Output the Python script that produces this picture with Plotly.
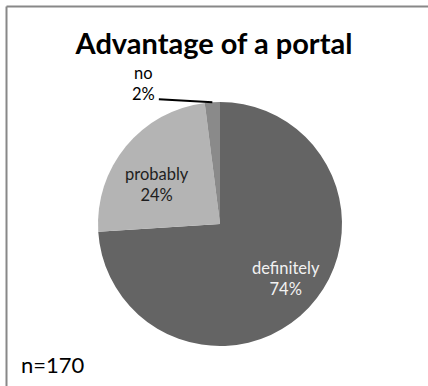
import math
import plotly.graph_objects as go

labels = ["definitely", "probably", "no"]
values = [74, 24, 2]
colors = ["#646464", "#b4b4b4", "#8a8a8a"]
text_colors = ["#f2f2f2", "#1e1e1e", "#000000"]
title = "Advantage of a portal"
note = "n=170"

W, H = 428, 386
dom_x = [98 / W, 342 / W]
dom_y = [(H - 346) / H, (H - 102) / H]
FONT = "Lato, Open Sans, sans-serif"

total = sum(values)
texts = [f"{l}<br>{round(v * 100 / total)}%" for l, v in zip(labels, values)]

fig = go.Figure(go.Pie(
    labels=labels, values=values, sort=False, direction="clockwise", rotation=0,
    marker=dict(colors=colors, line=dict(width=0)),
    textinfo="none",
    domain=dict(x=dom_x, y=dom_y), showlegend=False, hoverinfo="label+percent",
))

# label anchor positions (pixels) for each slice label
label_pos = [(286, 278), (157, 185), (143, 83)]
for i, (lx, ly) in enumerate(label_pos):
    fig.add_annotation(x=lx / W, y=1 - ly / H, xref="paper", yref="paper",
                       xanchor="center", yanchor="middle", showarrow=False,
                       text=texts[i], align="center",
                       font=dict(family=FONT, size=16.5, color=text_colors[i]))

# leader line for the small "no" slice, from its mid-angle
cx = (dom_x[0] + dom_x[1]) / 2 * W
cy = H - (dom_y[0] + dom_y[1]) / 2 * H
r = (dom_x[1] - dom_x[0]) * W / 2
cum = sum(values[:2])
mid = (cum + values[2] / 2) / total * 2 * math.pi
px = cx + r * math.sin(mid)
py = cy - r * math.cos(mid)

fig.add_annotation(x=px / W, y=1 - py / H, xref="paper", yref="paper",
                   ax=-55, ay=-3, showarrow=True, arrowhead=0, arrowwidth=2,
                   arrowcolor="#000000", text="", standoff=0)

fig.add_annotation(x=19 / W, y=1 - 364 / H, xref="paper", yref="paper",
                   xanchor="left", yanchor="middle", showarrow=False, text=note,
                   font=dict(family=FONT, size=22, color="#000000"))

fig.update_layout(
    width=W, height=H, margin=dict(l=0, r=0, t=0, b=0),
    paper_bgcolor="white", plot_bgcolor="white",
    title=dict(text=f"<b>{title}</b>", x=0.5, xanchor="center", y=1 - 44 / H, yanchor="middle",
               font=dict(family=FONT, size=29, color="#000000")),
    shapes=[
        dict(type="line", xref="paper", yref="paper", x0=6.5 / W, x1=1, y0=1 - 6.5 / H, y1=1 - 6.5 / H,
             line=dict(color="#888888", width=2)),
        dict(type="line", xref="paper", yref="paper", x0=6.5 / W, x1=6.5 / W, y0=0, y1=1 - 6.5 / H,
             line=dict(color="#888888", width=2)),
    ],
)

fig.write_html("out.html")
